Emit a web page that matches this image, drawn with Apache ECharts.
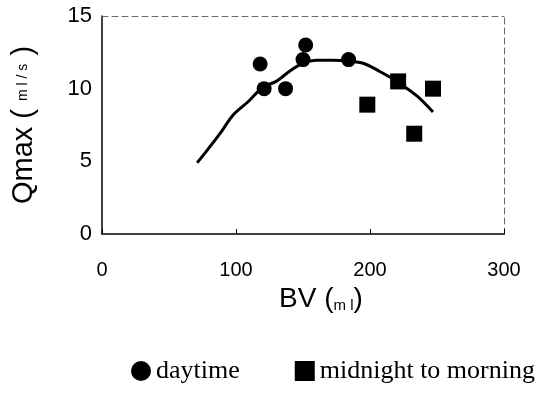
<!DOCTYPE html>
<html>
<head>
<meta charset="utf-8">
<script src="https://cdn.jsdelivr.net/npm/echarts@6/dist/echarts.min.js"></script>
<style>
  html, body { margin: 0; padding: 0; background: #fff; }
  #chart { width: 557px; height: 409px; }
</style>
</head>
<body>
<div id="chart"></div>
<script>
// measured points (BV ml, Qmax ml/s)
var daytime = [[118, 11.7], [121, 10], [137, 10], [150, 12], [152, 13], [184, 12]]
var midnight = [[198, 8.9], [221, 10.5], [233, 6.9], [247, 10]]
// fitted curve
var curveX = [71, 78, 88, 98, 109, 120, 130, 140, 150, 160, 172, 184, 195, 207, 220, 235, 247]
var curveY = [4.9, 5.7, 6.9, 8.2, 9.1, 10.1, 10.5, 11.2, 11.75, 11.95, 11.95, 11.9, 11.75, 11.2, 10.5, 9.5, 8.4]
var xTicks = [0, 100, 200, 300]
var yTicks = [0, 5, 10, 15]

var curve = []
for (var i = 0; i < curveX.length; i++) {
  curve.push([curveX[i], curveY[i]])
}

var myChart = echarts.init(document.getElementById('chart'))
var sans = 'Liberation Sans'
var option = {
  animation: false,
  backgroundColor: '#fff',
  grid: { left: 102, right: 53, top: 16, bottom: 175 },
  legend: {
    left: 126,
    top: 353,
    itemGap: 55,
    itemWidth: 20,
    itemHeight: 20,
    textStyle: { fontFamily: 'Liberation Serif', fontSize: 26, color: '#000' },
    data: [
      { name: 'daytime', icon: 'circle' },
      { name: 'midnight to morning', icon: 'rect' }
    ]
  },
  xAxis: [{
    type: 'value',
    min: xTicks[0],
    max: xTicks[xTicks.length - 1],
    interval: 100,
    name: '{a|BV (}{b|m l}{a|)}',
    nameLocation: 'middle',
    nameGap: 46,
    nameTextStyle: {
      padding: [0, 0, 0, 36],
      rich: {
        a: { fontFamily: sans, fontSize: 28, color: '#000' },
        b: { fontFamily: sans, fontSize: 15, color: '#000', verticalAlign: 'bottom' }
      }
    },
    axisLine: { onZero: false, lineStyle: { color: '#000', width: 1.5 } },
    axisTick: { inside: true, length: 5, lineStyle: { color: '#000' } },
    axisLabel: { fontFamily: sans, fontSize: 20, color: '#000', margin: 26 },
    splitLine: { show: false }
  }, {
    type: 'value',
    position: 'top',
    min: 0, max: 300,
    axisLine: { show: true, onZero: false, lineStyle: { color: '#666', width: 1, type: [6, 4] } },
    axisTick: { show: false },
    axisLabel: { show: false },
    splitLine: { show: false }
  }],
  yAxis: [{
    type: 'value',
    min: yTicks[0],
    max: yTicks[yTicks.length - 1],
    interval: 5,
    name: '{a|Qmax ( }{b|m l / s}{a| )}',
    nameLocation: 'middle',
    nameGap: 64,
    nameTextStyle: {
      rich: {
        a: { fontFamily: sans, fontSize: 29, color: '#000' },
        b: { fontFamily: sans, fontSize: 14, color: '#000' }
      }
    },
    axisLine: { onZero: false, lineStyle: { color: '#000', width: 1.5 } },
    axisTick: { show: false },
    axisLabel: { fontFamily: sans, fontSize: 22, color: '#000', margin: 10 },
    splitLine: { show: false }
  }, {
    type: 'value',
    position: 'right',
    min: 0, max: 15,
    axisLine: { show: true, onZero: false, lineStyle: { color: '#666', width: 1, type: [6, 4] } },
    axisTick: { show: false },
    axisLabel: { show: false },
    splitLine: { show: false }
  }],
  series: [
    {
      name: 'fit',
      type: 'line',
      data: curve,
      smooth: 0.3,
      showSymbol: false,
      lineStyle: { color: '#000', width: 3 },
      z: 2
    },
    {
      name: 'daytime',
      type: 'scatter',
      data: daytime,
      symbol: 'circle',
      symbolSize: 15,
      itemStyle: { color: '#000', opacity: 1 },
      z: 3
    },
    {
      name: 'midnight to morning',
      type: 'scatter',
      data: midnight,
      symbol: 'rect',
      symbolSize: 16,
      itemStyle: { color: '#000', opacity: 1 },
      z: 3
    }
  ]
}
myChart.setOption(option)
</script>
</body>
</html>
